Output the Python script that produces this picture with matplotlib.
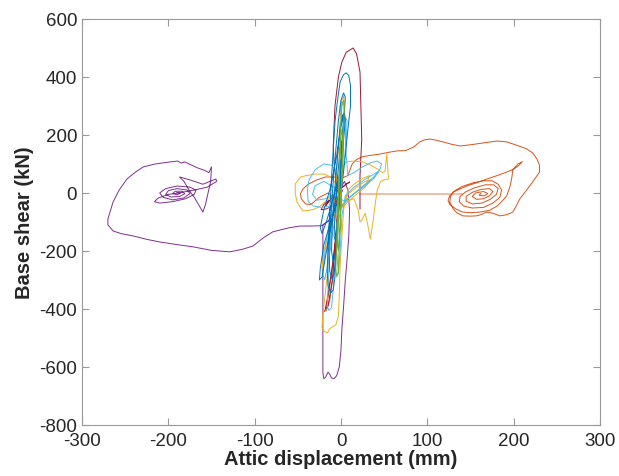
import numpy as np
import matplotlib
matplotlib.use("Agg")
import matplotlib.pyplot as plt

# hysteresis traces, (displacement mm, shear kN)
purple = np.array([
    (2, 10), (-3, -20), (-8, -60), (-14, -95), (-21, -110), (-21, -250), (-21, -400),
    (-21, -550), (-21, -620), (-20, -640), (-18, -636), (-15, -618), (-13, -625),
    (-11, -638), (-8, -640), (-5, -630), (-2, -600), (0, -540), (1, -470), (3, -390),
    (5, -300), (7, -230), (9, -150), (10, -60), (8, 10), (4, 40), (0, 20), (-4, -20),
    (-8, -60), (-14, -95), (-22, -113), (-35, -114), (-47, -114), (-60, -120),
    (-79, -134), (-90, -155), (-102, -183), (-115, -195), (-129, -203), (-150, -198),
    (-171, -186), (-190, -178), (-210, -169), (-225, -160), (-241, -148), (-255, -140),
    (-264, -131), (-270, -110), (-270, -90), (-267, -60), (-264, -31), (-257, 10),
    (-248, 48), (-238, 72), (-229, 90), (-215, 100), (-198, 107), (-189, 110),
    (-185, 103), (-181, 107), (-176, 100), (-171, 93), (-165, 85), (-158, 78),
    (-153, 70), (-150, 90), (-151, 40), (-154, 0), (-157, -40), (-160, -66),
    (-165, -40), (-170, -15), (-175, 5), (-182, 40), (-187, 55), (-175, 45),
    (-160, 30), (-145, 48), (-144, 40), (-155, 20), (-170, 10), (-188, 0), (-200, -5),
    (-212, -18), (-216, -30), (-210, -35), (-195, -30), (-180, -20), (-170, -5),
    (-168, 10), (-175, 20), (-190, 24), (-203, 15), (-210, 0), (-206, -15),
    (-195, -24), (-182, -17), (-175, -2), (-178, 10), (-190, 15), (-200, 8),
    (-203, -5), (-197, -14), (-187, -12), (-181, -3), (-184, 6), (-192, 6),
    (-195, -2), (-190, -6), (-186, -1), (-190, 2),
])

darkred = np.array([
    (0, 0), (-4, -25), (-10, -45), (-17, -55), (-23, -58), (-20, -40), (-14, -25),
    (-18, -45), (-10, -15), (-3, 10), (5, 28), (10, 38), (6, 30), (0, 15), (-3, -50),
    (-6, -150), (-10, -250), (-15, -350), (-18, -400), (-15, -390), (-10, -300),
    (-6, -150), (-3, 0), (-8, 100), (-9, 162), (-7, 300), (-3, 400), (1, 451),
    (6, 485), (14, 500), (18, 480), (22, 417), (23, 300), (24, 186), (22, 60),
    (22, -20), (22, -55),
])

orange = np.array([
    (0, 0), (-3, -80), (-7, -180), (-11, -280), (-15, -360), (-18, -400), (-20, -410),
    (-17, -405), (-13, -370), (-9, -280), (-6, -170), (-3, -60), (-6, -20), (-15, 0),
    (-25, -15), (-35, -40), (-41, -38), (-46, -20), (-47, -3), (-44, 14), (-38, 30),
    (-28, 45), (-18, 55), (-8, 55), (0, 50), (8, 60), (13, 100), (18, 115), (25, 125),
    (35, 130), (45, 134), (55, 140), (65, 145), (75, 146), (85, 160), (91, 176),
    (97, 183), (103, 186), (110, 182), (118, 176), (128, 168), (138, 162), (147, 165),
    (157, 169), (168, 174), (181, 179), (192, 176), (203, 165), (215, 152), (222, 138),
    (227, 117), (230, 95), (230, 72), (226, 55), (222, 38), (215, 10), (207, -21),
    (203, -45), (199, -66), (192, -75), (184, -79), (176, -70), (169, -66), (162, -75),
    (157, -79), (149, -80), (141, -79), (134, -68), (130, -55), (126, -31), (127, -12),
    (130, 3), (138, 14), (146, 24), (158, 36), (169, 48), (181, 60), (192, 72),
    (200, 82), (206, 95), (210, 108), (205, 100), (199, 80), (198, 55), (196, 25),
    (192, -10), (186, -30), (181, -45), (172, -60), (161, -66), (150, -68), (141, -66),
    (133, -55), (126, -40), (124, -25), (126, -10), (132, 8), (140, 22), (153, 35),
    (165, 42), (175, 42), (182, 30), (186, 10), (184, -15), (176, -35), (165, -50),
    (152, -52), (142, -45), (137, -30), (138, -12), (145, 5), (155, 18), (167, 28),
    (177, 28), (182, 15), (180, -5), (173, -22), (163, -35), (152, -38), (145, -28),
    (145, -12), (152, 2), (162, 12), (172, 15), (176, 5), (172, -10), (165, -20),
    (157, -22), (152, -12), (156, 0), (165, 5), (170, -2), (166, -10), (160, -8),
    (162, -2),
])
orange_gap = np.array([(22, -3), (140, -3)])

yellow = np.array([
    (0, 0), (2, 100), (3, 220), (4, 300), (3, 335), (1, 320), (-1, 250), (-3, 150),
    (-6, 30), (-10, -100), (-14, -230), (-18, -340), (-21, -420), (-22, -465),
    (-19, -478), (-16, -483), (-13, -468), (-10, -462), (-6, -455), (-3, -424),
    (-2, -350), (-1, -250), (1, -150), (3, -60), (5, -20), (8, 10), (15, 30), (25, 50),
    (33, 60), (30, 35), (20, 10), (10, -15), (4, -35), (8, -5), (18, 20), (28, 40),
    (35, 45), (28, 20), (18, -5), (8, -30), (2, -50), (0, -20), (-5, 30), (-12, 55),
    (-19, 65), (-30, 65), (-40, 60), (-47, 55), (-53, 31), (-53, 0), (-51, -31),
    (-47, -50), (-44, -62), (-37, -60), (-30, -55), (-24, -45), (-18, -30), (-10, -10),
    (-3, 40), (2, 90), (6, 107), (15, 110), (25, 107), (35, 95), (42, 83), (48, 70),
    (51, 75), (53, 134), (54, 90), (55, 48), (50, 45), (46, 40), (42, 10), (40, -30),
    (37, -100), (34, -159), (31, -110), (28, -70), (24, -95), (22, -100), (20, -60),
    (15, -20), (5, -30), (-5, -60), (-12, -120), (-20, -200), (-22, -260), (-20, -230),
    (-14, -150), (-6, -60), (0, 0),
])

lightblue = np.array([
    (0, 0), (-4, 60), (-10, 95), (-20, 100), (-30, 80), (-37, 45), (-39, 10),
    (-38, -30), (-32, -45), (-22, -50), (-15, -45), (-10, -60), (-12, -150),
    (-14, -250), (-15, -330), (-16, -390), (-14, -405), (-11, -395), (-9, -330),
    (-7, -230), (-5, -120), (-2, -20), (1, 60), (3, 150), (1, 250), (-1, 300), (1, 315),
    (3, 305), (5, 230), (6, 130), (8, 60), (15, 70), (25, 90), (35, 105), (42, 110),
    (47, 100), (45, 80), (38, 55), (28, 30), (18, 5), (8, -20), (0, -50), (-3, -100),
    (-5, -200), (-3, -280), (-1, -200), (1, -80), (5, -10), (15, 20), (27, 45),
    (38, 65), (44, 75), (38, 50), (26, 20), (14, -5), (4, -30), (0, -20), (-8, 20),
    (-20, 40), (-30, 25), (-33, -5), (-28, -25), (-18, -20), (-8, -5), (-12, -80),
    (-18, -180), (-21, -280), (-19, -300), (-15, -240), (-10, -140), (-4, -40),
    (2, 60), (6, 180), (7, 250), (5, 260), (2, 200), (-2, 100), (0, 0),
])

blue = np.array([
    (0, 0), (4, 100), (8, 220), (11, 300), (11, 370), (9, 405), (6, 414), (3, 408),
    (-1, 383), (-4, 320), (-7, 245), (-9, 150), (-11, 50), (-13, -60), (-15, -180),
    (-16, -270), (-15, -320), (-12, -345), (-9, -335), (-7, -290), (-6, -200),
    (-4, -100), (-2, 0), (0, 100), (2, 200), (4, 280), (5, 330), (3, 345), (0, 320),
    (-3, 250), (-6, 150), (-9, 40), (-12, -80), (-14, -200), (-13, -270), (-10, -300),
    (-7, -260), (-5, -160), (-3, -50), (-1, 60), (1, 160), (3, 240), (2, 270),
    (-1, 230), (-4, 130), (-7, 20), (-10, -100), (-11, -200), (-9, -240), (-6, -200),
    (-4, -100), (-2, -10), (0, 80), (2, 150), (0, 180), (-2, 120), (-5, 20), (-7, -80),
    (-8, -150), (-6, -170), (-4, -110), (-2, -30), (-5, -40), (-12, -100), (-20, -180),
    (-24, -260), (-25, -300), (-22, -290), (-18, -220), (-12, -120), (-6, -20),
    (-2, 60), (2, 150), (5, 250), (4, 280), (0, 230), (-5, 130), (-12, 20), (-20, -60),
    (-24, -120), (-22, -140), (-17, -100), (-10, -30), (-4, 40), (0, 30), (-1, 0),
])

green = np.array([
    (0, 0), (2, 120), (3, 230), (4, 300), (3, 320), (1, 300), (-1, 200), (-2, 80),
    (-4, -50), (-5, -180), (-6, -260), (-5, -290), (-3, -270), (-2, -170), (0, -50),
    (1, 80), (2, 190), (1, 220), (-1, 150), (-2, 40), (-3, -90), (-4, -180),
    (-3, -200), (-1, -120), (0, -20), (1, 50), (0, 0),
])

plt.rcParams['font.family'] = ['Liberation Sans', 'DejaVu Sans']

fig = plt.figure(figsize=(6.19, 4.77), dpi=100)
ax = fig.add_axes([0.1325, 0.107, 0.8368, 0.8512])

lw = 0.7
ax.plot(purple[:, 0], purple[:, 1], color='#7E2F8E', lw=lw)
ax.plot(orange_gap[:, 0], orange_gap[:, 1], color='#D95319', lw=1.2, alpha=0.45)
ax.plot(orange[:, 0], orange[:, 1], color='#D95319', lw=lw)
ax.plot(darkred[:, 0], darkred[:, 1], color='#A2142F', lw=lw)
ax.plot(yellow[:, 0], yellow[:, 1], color='#EDB120', lw=lw)
ax.plot(lightblue[:, 0], lightblue[:, 1], color='#4DBEEE', lw=lw)
ax.plot(blue[:, 0], blue[:, 1], color='#0072BD', lw=lw)
ax.plot(green[:, 0], green[:, 1], color='#77AC30', lw=lw)

ax.set_xlim(-300, 300)
ax.set_ylim(-800, 600)
ax.set_xticks(np.arange(-300, 301, 100))
ax.set_yticks(np.arange(-800, 601, 200))
ax.set_xticklabels([str(v) for v in range(-300, 301, 100)])
ax.set_yticklabels([str(v) for v in range(-800, 601, 200)])

for s in ax.spines.values():
    s.set_color('#999999')
    s.set_linewidth(0.8)
ax.tick_params(direction='in', length=5, width=0.8, color='#999999',
               labelcolor='#262626', labelsize=13.5, top=True, right=True)
ax.tick_params(axis='x', pad=5)

ax.set_xlabel('Attic displacement (mm)', fontsize=14.5, fontweight='bold',
              color='#262626', labelpad=0)
ax.set_ylabel('Base shear (kN)', fontsize=14.5, fontweight='bold',
              color='#262626', labelpad=4)

fig.savefig('out.png', dpi=100)
